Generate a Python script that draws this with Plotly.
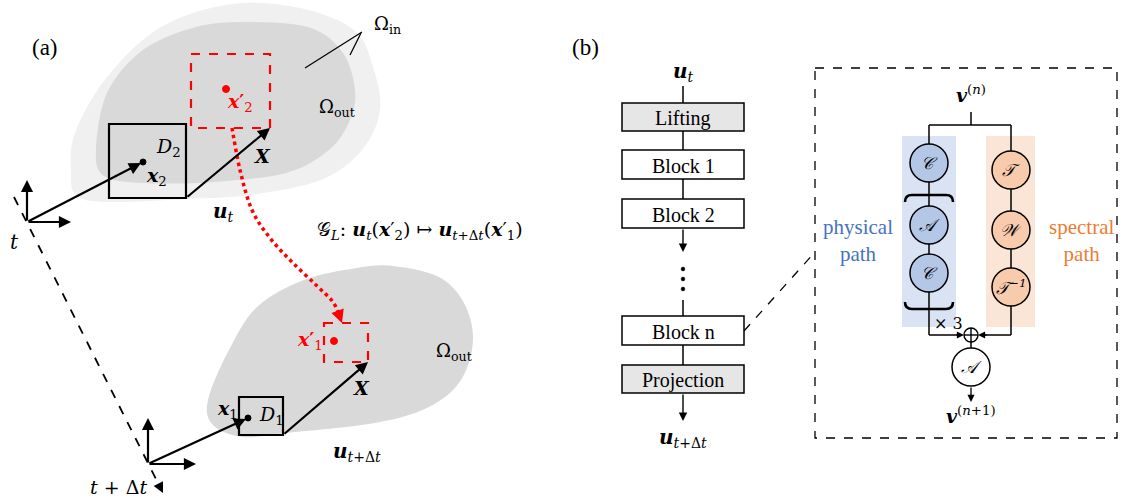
import plotly.graph_objects as go

W, H = 1124, 499
SERIF = "Liberation Serif, Times New Roman, serif"
MATH = "DejaVu Serif, serif"

# ---------------- content ----------------
panel_labels = ["(a)", "(b)"]
block_labels = ["Lifting", "Block 1", "Block 2", "Block n", "Projection"]
block_shaded = [True, False, False, False, True]
physical_nodes = ["𝒞", "𝒜", "𝒞"]
spectral_nodes = ["𝒯", "𝒲", "𝒯<sup>−1</sup>"]
path_names = ["physical<br>path", "spectral<br>path"]
repeat_label = "× 3"
io_labels = ["<b><i>u</i></b><sub><i>t</i></sub>", "<b><i>u</i></b><sub><i>t</i>+Δ<i>t</i></sub>"]
v_labels = ["<b><i>v</i></b><sup>(<i>n</i>)</sup>", "<b><i>v</i></b><sup>(<i>n</i>+1)</sup>"]
operator_label = ("𝒢<sub><i>L</i></sub>: <b><i>u</i></b><sub><i>t</i></sub>(<b><i>x</i></b>′<sub>2</sub>) ↦ "
                  "<b><i>u</i></b><sub><i>t</i>+Δ<i>t</i></sub>(<b><i>x</i></b>′<sub>1</sub>)")

# ---------------- layout geometry ----------------
outer_blob = [(71, 173), (75, 133), (107, 77), (161, 27), (232, 4), (300, 8), (354, 30), (373, 67),
              (380, 110), (362, 150), (321, 180), (250, 195), (186, 199), (105, 202), (76, 195)]
inner_blob = [(96, 150), (107, 93), (143, 50), (196, 27), (250, 22), (311, 28), (343, 53), (355, 90),
              (350, 120), (329, 150), (286, 173), (214, 182), (143, 183), (104, 176)]
lower_blob = [(208, 400), (229, 350), (257, 307), (304, 280), (357, 268), (393, 266), (439, 277),
              (464, 303), (473, 340), (461, 380), (429, 407), (375, 423), (286, 433), (243, 437), (213, 425)]
red_curve = [(232, 128), (240, 170), (252, 210), (270, 238), (292, 262), (316, 285), (333, 302), (340, 318)]


def closed_spline(pts):
    n = len(pts)
    s = f"M {pts[0][0]},{pts[0][1]}"
    for i in range(n):
        p0, p1, p2, p3 = pts[(i - 1) % n], pts[i], pts[(i + 1) % n], pts[(i + 2) % n]
        c1 = (p1[0] + (p2[0] - p0[0]) / 6, p1[1] + (p2[1] - p0[1]) / 6)
        c2 = (p2[0] - (p3[0] - p1[0]) / 6, p2[1] - (p3[1] - p1[1]) / 6)
        s += f" C {c1[0]:.1f},{c1[1]:.1f} {c2[0]:.1f},{c2[1]:.1f} {p2[0]},{p2[1]}"
    return s + " Z"


def open_spline(pts):
    n = len(pts)
    s = f"M {pts[0][0]},{pts[0][1]}"
    for i in range(n - 1):
        p0 = pts[i - 1] if i > 0 else pts[i]
        p1, p2 = pts[i], pts[i + 1]
        p3 = pts[i + 2] if i + 2 < n else pts[i + 1]
        c1 = (p1[0] + (p2[0] - p0[0]) / 6, p1[1] + (p2[1] - p0[1]) / 6)
        c2 = (p2[0] - (p3[0] - p1[0]) / 6, p2[1] - (p3[1] - p1[1]) / 6)
        s += f" C {c1[0]:.1f},{c1[1]:.1f} {c2[0]:.1f},{c2[1]:.1f} {p2[0]},{p2[1]}"
    return s


shapes = []
annots = []


def line(x0, y0, x1, y1, color="black", width=1.5, dash="solid"):
    shapes.append(dict(type="line", x0=x0, y0=y0, x1=x1, y1=y1, xref="x", yref="y",
                       line=dict(color=color, width=width, dash=dash)))


def rect(x0, y0, x1, y1, fill="rgba(0,0,0,0)", color="black", width=1.5, dash="solid"):
    shapes.append(dict(type="rect", x0=x0, y0=y0, x1=x1, y1=y1, xref="x", yref="y",
                       fillcolor=fill, line=dict(color=color, width=width, dash=dash)))


def circle(cx, cy, r, fill="white", color="black", width=1.5):
    shapes.append(dict(type="circle", x0=cx - r, y0=cy - r, x1=cx + r, y1=cy + r, xref="x", yref="y",
                       fillcolor=fill, line=dict(color=color, width=width)))


def path(d, fill=None, color="black", width=1.5, dash="solid"):
    sh = dict(type="path", path=d, xref="x", yref="y", line=dict(color=color, width=width, dash=dash))
    if fill:
        sh["fillcolor"] = fill
    shapes.append(sh)


def text(x, y, s, size=18, color="black", family=SERIF, xa="center", ya="middle"):
    annots.append(dict(x=x, y=y, xref="x", yref="y", text=s, showarrow=False, xanchor=xa, yanchor=ya,
                       font=dict(size=size, color=color, family=family)))


def arrow(x0, y0, x1, y1, color="black", width=2.2, size=1.1, head=2):
    annots.append(dict(x=x1, y=y1, ax=x0, ay=y0, xref="x", yref="y", axref="x", ayref="y",
                       showarrow=True, arrowhead=head, arrowsize=size, arrowwidth=width,
                       arrowcolor=color, text="", standoff=0))


# ================= panel (a) =================
path(closed_spline(outer_blob), fill="#f0f0f0", color="rgba(0,0,0,0)", width=0)
path(closed_spline(inner_blob), fill="#d9d9d9", color="rgba(0,0,0,0)", width=0)
path(closed_spline(lower_blob), fill="#d9d9d9", color="rgba(0,0,0,0)", width=0)

text(45, 47, panel_labels[0], size=23)
# Omega labels
line(305, 68, 362, 32, width=1.2)
line(350, 55, 361, 33, width=1.2)
text(372, 25, "Ω<sub>in</sub>", size=18, family=MATH, xa="left")
text(337, 108, "Ω<sub>out</sub>", size=18, family=MATH)
text(454, 352, "Ω<sub>out</sub>", size=18, family=MATH)

# time axis
line(14, 197, 160, 487, width=1.8, dash="dash")
arrow(158, 483, 163, 493, width=1.6, size=1.3)
text(14, 242, "<i>t</i>", size=20, family=MATH)
text(118, 487, "<i>t</i> + Δ<i>t</i>", size=19, family=MATH)

# upper frame
arrow(27, 222, 27, 180)
arrow(27, 222, 71, 222)
rect(109, 124, 186, 198, width=2.2)
rect(191, 54, 270, 128, color="#ff0000", width=2.2, dash="dash")
arrow(27, 222, 141, 163)
arrow(186, 198, 270, 128)
circle(143, 162, 3, fill="black", color="black", width=1)
circle(226, 89, 3.5, fill="#ff0000", color="#ff0000", width=1)
text(168, 147, "<i>D</i><sub>2</sub>", size=19, family=MATH)
text(156, 176, "<b><i>x</i></b><sub>2</sub>", size=19, family=MATH)
text(240, 102, "<b><i>x</i>′</b><sub>2</sub>", size=19, color="#ff0000", family=MATH)
text(262, 156, "<b><i>X</i></b>", size=19, family=MATH)
text(223, 212, io_labels[0], size=20, family=MATH)
text(420, 230, operator_label, size=19, family=MATH)

# red mapping curve
path(open_spline(red_curve), color="#ff0000", width=3.5, dash="dot")
arrow(338, 312, 342, 323, color="#ff0000", width=2, size=1.3)

# lower frame
arrow(148, 464, 148, 418)
arrow(148, 464, 196, 464)
rect(239, 397, 283, 435, width=2.2)
rect(324, 323, 368, 362, color="#ff0000", width=2.2, dash="dash")
arrow(148, 464, 246, 419)
arrow(283, 435, 368, 362)
circle(248, 418, 3, fill="black", color="black", width=1)
circle(334, 341, 3.5, fill="#ff0000", color="#ff0000", width=1)
text(271, 415, "<i>D</i><sub>1</sub>", size=19, family=MATH)
text(227, 409, "<b><i>x</i></b><sub>1</sub>", size=19, family=MATH)
text(310, 340, "<b><i>x</i>′</b><sub>1</sub>", size=19, color="#ff0000", family=MATH)
text(361, 388, "<b><i>X</i></b>", size=19, family=MATH)
text(357, 452, io_labels[1], size=20, family=MATH)

# ================= panel (b) =================
text(585, 47, panel_labels[1], size=23)
bx0, bx1, bcx = 622, 744, 683
block_y = [(103, 131), (150, 179), (199, 228), (316, 345), (365, 393)]
text(bcx, 72, io_labels[0], size=20, family=MATH)
line(bcx, 86, bcx, 103)
for (y0, y1), lab, sh in zip(block_y, block_labels, block_shaded):
    rect(bx0, y0, bx1, y1, fill="#e7e6e6" if sh else "white", width=1.5)
    text(bcx, (y0 + y1) / 2 + 1, lab, size=20)
line(bcx, 131, bcx, 150)
line(bcx, 179, bcx, 199)
arrow(bcx, 228, bcx, 252, width=1.4, size=1.2)
for yy in (269, 279, 289):
    circle(bcx, yy, 1.9, fill="black", color="black", width=0.5)
line(bcx, 300, bcx, 316)
line(bcx, 345, bcx, 365)
arrow(bcx, 393, bcx, 421, width=1.4, size=1.2)
text(bcx, 438, io_labels[1], size=20, family=MATH)

# zoom box
rect(815, 68, 1117, 438, width=1.3, dash="dash")
line(744, 331, 815, 252, width=1.3, dash="dash")

# path backgrounds
rect(902, 136, 956, 327, fill="#dae3f3", color="rgba(0,0,0,0)", width=0)
rect(986, 136, 1035, 327, fill="#fbe5d6", color="rgba(0,0,0,0)", width=0)
text(858, 240, path_names[0], size=21, color="#4472c4")
text(1081, 240, path_names[1], size=21, color="#ed7d31")

lx, rx, cx = 929, 1011, 971
text(cx, 94, v_labels[0], size=19, family=MATH)
line(cx, 112, cx, 125)
line(lx, 125, rx, 125)
line(lx, 125, lx, 335)
line(rx, 125, rx, 335)
line(lx, 335, 960, 335)
line(rx, 335, 982, 335)
arrow(955, 335, 964, 335, width=1.3, size=1.1)
arrow(988, 335, 978, 335, width=1.3, size=1.1)

# braces
path("M 905,202 Q 905,195 912,195 L 946,195 Q 953,195 953,202", width=2.6)
path("M 905,302 Q 905,309 912,309 L 946,309 Q 953,309 953,302", width=2.6)
text(948, 323, repeat_label, size=16, family=MATH)

phys_y = [163, 225, 273]
spec_y = [170, 230, 287]
for y, lab in zip(phys_y, physical_nodes):
    circle(lx, y, 19, fill="#b4c7e7")
    text(lx, y, "<i>" + lab + "</i>", size=17, family=MATH)
for y, lab in zip(spec_y, spectral_nodes):
    circle(rx, y, 19, fill="#f8cbad")
    text(rx, y, "<i>" + lab + "</i>", size=17, family=MATH)

# sum node
circle(cx, 335, 7, fill="white", width=1.4)
line(cx - 7, 335, cx + 7, 335, width=1.4)
line(cx, 328, cx, 342, width=1.4)
line(cx, 342, cx, 348)
circle(cx, 367, 19, fill="white")
text(cx, 367, "<i>𝒜</i>", size=17, family=MATH)
arrow(cx, 386, cx, 402, width=1.3, size=1.1)
text(cx, 415, v_labels[1], size=19, family=MATH)

fig = go.Figure()
fig.update_layout(
    width=W, height=H, margin=dict(l=0, r=0, t=0, b=0),
    paper_bgcolor="white", plot_bgcolor="white",
    xaxis=dict(range=[0, W], visible=False, fixedrange=True),
    yaxis=dict(range=[H, 0], visible=False, fixedrange=True),
    shapes=shapes, annotations=annots, showlegend=False,
)
fig.write_html("out.html")
